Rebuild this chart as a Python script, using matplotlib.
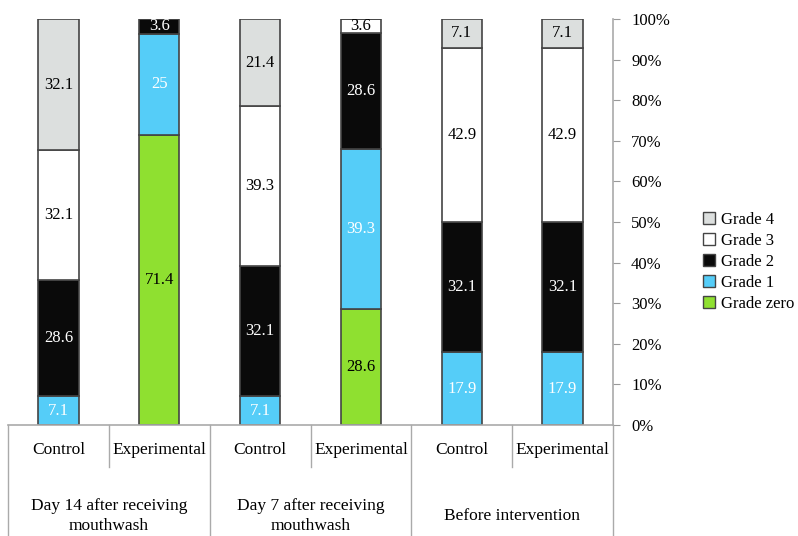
import numpy as np
import matplotlib
matplotlib.use("Agg")
import matplotlib.pyplot as plt
from matplotlib.patches import Patch

plt.rcParams['font.family'] = ['Liberation Serif', 'DejaVu Serif']

# Data (stack order bottom -> top)
bar_labels = ["Control", "Experimental", "Control", "Experimental", "Control", "Experimental"]
group_labels = ["Day 14 after receiving\nmouthwash", "Day 7 after receiving\nmouthwash", "Before intervention"]
grades = ["Grade zero", "Grade 1", "Grade 2", "Grade 3", "Grade 4"]
grade_zero = [0, 71.4, 0, 28.6, 0, 0]
grade_1 = [7.1, 25, 7.1, 39.3, 17.9, 17.9]
grade_2 = [28.6, 3.6, 32.1, 28.6, 32.1, 32.1]
grade_3 = [32.1, 0, 39.3, 3.6, 42.9, 42.9]
grade_4 = [32.1, 0, 21.4, 0, 7.1, 7.1]

series = [grade_zero, grade_1, grade_2, grade_3, grade_4]
colors = ["#8fe030", "#55cdf8", "#0a0a0a", "#ffffff", "#dcdfde"]
text_colors = ["black", "white", "white", "black", "black"]

fig = plt.figure(figsize=(7.98, 5.36), dpi=100)
ax = fig.add_axes([8 / 798, 1 - 425 / 536, 605 / 798, 406 / 536])

x = np.arange(len(bar_labels))
bottom = np.zeros(len(x))
for vals, col, tc in zip(series, colors, text_colors):
    vals = np.array(vals, dtype=float)
    ax.bar(x, vals, 0.4, bottom=bottom, color=col, edgecolor="#444444", linewidth=1.2)
    for xi, v, b in zip(x, vals, bottom):
        if v > 0:
            ax.text(xi, b + v / 2, f"{v:g}", ha="center", va="center", color=tc, fontsize=12)
    bottom += vals

ax.set_xlim(-0.5, 5.5)
ax.set_ylim(0, 100)
ax.set_xticks([])
ax.yaxis.tick_right()
ax.set_yticks(np.arange(0, 101, 10))
ax.set_yticklabels([f"{v}%" for v in range(0, 101, 10)], fontsize=12, ha="left")
ax.tick_params(axis="y", direction="out", length=5, color="#999999", pad=8)
for s in ["top", "left"]:
    ax.spines[s].set_visible(False)
for s in ["right", "bottom"]:
    ax.spines[s].set_color("#aaaaaa")
    ax.spines[s].set_linewidth(1.2)

# category table below the axis
trans = ax.get_xaxis_transform()
bottom_y = -111 / 406
short_y = -42 / 406
for xv in [-0.5, 1.5, 3.5, 5.5]:
    ax.plot([xv, xv], [0, bottom_y], color="#aaaaaa", lw=1, transform=trans, clip_on=False)
for xv in [0.5, 2.5, 4.5]:
    ax.plot([xv, xv], [0, short_y], color="#aaaaaa", lw=1, transform=trans, clip_on=False)
for xi, lab in zip(x, bar_labels):
    ax.text(xi, -25 / 406, lab, ha="center", va="center", fontsize=12.5, transform=trans)
for gi, lab in enumerate(group_labels):
    ax.text(2 * gi + 0.5, -91 / 406, lab, ha="center", va="center", fontsize=12.5,
            transform=trans, linespacing=1.35)

handles = [Patch(facecolor=c, edgecolor="#444444", label=g) for g, c in zip(grades, colors)]
handles = handles[::-1]
fig.legend(handles=handles, loc="center left", bbox_to_anchor=(688 / 798, 1 - 262 / 536),
           frameon=False, fontsize=12, handlelength=0.7, handleheight=0.7,
           handletextpad=0.4, labelspacing=0.3)

fig.savefig("out.png", dpi=100)
